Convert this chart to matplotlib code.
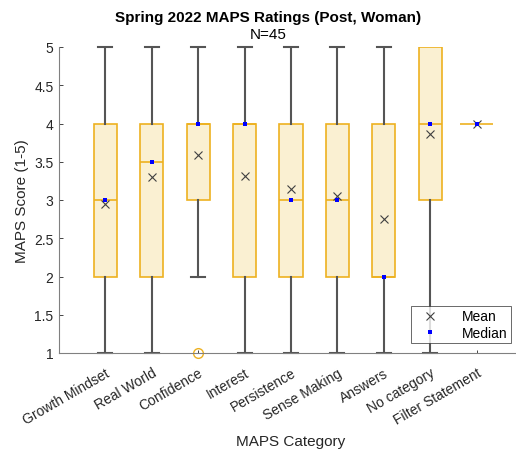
import matplotlib
matplotlib.use('Agg')
import matplotlib.pyplot as plt
import numpy as np

plt.rcParams['font.family'] = ['Liberation Sans', 'DejaVu Sans']

categories = ['Growth Mindset', 'Real World', 'Confidence', 'Interest', 'Persistence',
              'Sense Making', 'Answers', 'No category', 'Filter Statement']
# box stats: whisker low, q1, median, q3, whisker high
whislo = [1, 1, 2, 1, 1, 1, 1, 1, 4]
q1 = [2, 2, 3, 2, 2, 2, 2, 3, 4]
medians = [3, 3.5, 4, 4, 3, 3, 2, 4, 4]
q3 = [4, 4, 4, 4, 4, 4, 4, 5, 4]
whishi = [5, 5, 5, 5, 5, 5, 5, 5, 4]
means = [2.95, 3.30, 3.59, 3.31, 3.15, 3.05, 2.75, 3.86, 4.0]
outliers = [[], [], [1], [], [], [], [], [], []]

orange = '#EDB120'
face = '#FAF0D2'
grey = '#555555'

stats = []
for i in range(len(categories)):
    stats.append({'whislo': whislo[i], 'q1': q1[i], 'med': medians[i], 'q3': q3[i],
                  'whishi': whishi[i], 'fliers': outliers[i], 'label': categories[i]})

fig = plt.figure(figsize=(5.16, 4.52), dpi=100)
ax = fig.add_axes([59 / 516, 1 - 354 / 452, 464 / 516, 306 / 452])

pos = np.arange(1, len(categories) + 1)
bp = ax.bxp(stats, positions=pos, widths=0.5, patch_artist=True, showfliers=True,
            boxprops=dict(facecolor=face, edgecolor=orange, linewidth=1.2),
            medianprops=dict(color=orange, linewidth=1.2),
            whiskerprops=dict(color=grey, linewidth=1.5),
            capprops=dict(color=grey, linewidth=1.5),
            capwidths=0.3,
            flierprops=dict(marker='o', markerfacecolor='none', markeredgecolor=orange,
                            markersize=7, clip_on=False))
for i in range(len(categories)):
    # zero-length whiskers draw no cap
    if whislo[i] == q1[i]:
        bp['caps'][2 * i].set_visible(False)
        bp['whiskers'][2 * i].set_visible(False)
    if whishi[i] == q3[i]:
        bp['caps'][2 * i + 1].set_visible(False)
        bp['whiskers'][2 * i + 1].set_visible(False)
    if q1[i] == q3[i]:
        bp['boxes'][i].set_visible(False)
        bp['medians'][i].set_xdata([pos[i] - 0.35, pos[i] + 0.35])
for c in bp['caps']:
    c.set_clip_on(False)

ax.plot(pos, means, 'x', color='#404040', markersize=6, markeredgewidth=0.8,
        linestyle='none', label='Mean', zorder=5)
ax.plot(pos, medians, 's', color='blue', markersize=3.2, markeredgewidth=0,
        linestyle='none', label='Median', zorder=6)

ax.set_xlim(0, 10)
ax.set_ylim(1, 5)
ax.set_yticks(np.arange(1, 5.01, 0.5))
ax.set_yticklabels(['1', '1.5', '2', '2.5', '3', '3.5', '4', '4.5', '5'])
ax.set_xticks(pos)
ax.set_xticklabels(categories, rotation=30, ha='right', rotation_mode='anchor')
ax.tick_params(axis='both', direction='in', length=3, width=0.6, colors='#262626',
               labelsize=10, pad=4)
ax.tick_params(axis='x', length=2, pad=9)
for s in ['top', 'right']:
    ax.spines[s].set_visible(False)
for s in ['left', 'bottom']:
    ax.spines[s].set_color('#808080')
    ax.spines[s].set_linewidth(0.8)

ax.set_ylabel('MAPS Score (1-5)', fontsize=11, color='#262626')
ax.set_xlabel('MAPS Category', fontsize=11, color='#262626', labelpad=5)
fig.text(0.5 + 0.02, 1 - 18 / 452, 'Spring 2022 MAPS Ratings (Post, Woman)', ha='center',
         va='center', fontsize=11, fontweight='bold')
fig.text(0.5 + 0.02, 1 - 35 / 452, 'N=45', ha='center', va='center', fontsize=11)

leg = ax.legend(loc='lower right', bbox_to_anchor=(511 / 516, (452 - 344) / 452),
                bbox_transform=fig.transFigure, fontsize=10, frameon=True, fancybox=False,
                edgecolor='#262626', handlelength=2.2, handletextpad=1.2,
                borderpad=0.25, labelspacing=0.15, borderaxespad=0)
leg.get_frame().set_linewidth(0.6)

fig.savefig('out.png', dpi=100)
